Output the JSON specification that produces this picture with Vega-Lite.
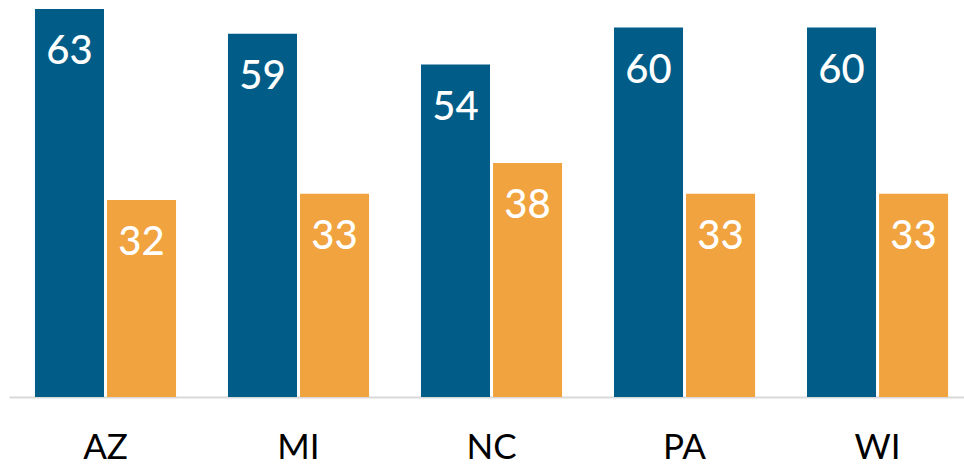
{
  "$schema": "https://vega.github.io/schema/vega-lite/v6.json",
  "width": 955,
  "height": 397,
  "autosize": "none",
  "padding": {"left": 9, "top": 0, "right": 0, "bottom": 67},
  "background": "white",
  "data": {
    "values": [
      {"state": "AZ", "series": "A", "value": 63},
      {"state": "AZ", "series": "B", "value": 32},
      {"state": "MI", "series": "A", "value": 59},
      {"state": "MI", "series": "B", "value": 33},
      {"state": "NC", "series": "A", "value": 54},
      {"state": "NC", "series": "B", "value": 38},
      {"state": "PA", "series": "A", "value": 60},
      {"state": "PA", "series": "B", "value": 33},
      {"state": "WI", "series": "A", "value": 60},
      {"state": "WI", "series": "B", "value": 33}
    ]
  },
  "encoding": {
    "x": {
      "field": "state",
      "type": "nominal",
      "sort": null,
      "scale": {"paddingInner": 0.269, "paddingOuter": 0.1085, "align": 0.62},
      "axis": {
        "title": null,
        "labelAngle": 0,
        "ticks": false,
        "tickSize": 0,
        "labelPadding": 61,
        "labelBaseline": "alphabetic",
        "labelFont": "Lato",
        "labelFontSize": 35,
        "labelColor": "#000000",
        "domainColor": "#d9d9d9",
        "domainWidth": 2,
        "grid": false
      }
    },
    "xOffset": {
      "field": "series",
      "type": "nominal",
      "scale": {"paddingInner": 0.042, "paddingOuter": 0}
    },
    "y": {
      "field": "value",
      "type": "quantitative",
      "scale": {"domain": [0, 64.46], "nice": false, "zero": true},
      "axis": null
    }
  },
  "layer": [
    {
      "mark": {"type": "bar"},
      "encoding": {
        "color": {
          "field": "series",
          "type": "nominal",
          "scale": {"domain": ["A", "B"], "range": ["#015d88", "#f0a33e"]},
          "legend": null
        }
      }
    },
    {
      "mark": {
        "type": "text",
        "baseline": "alphabetic",
        "align": "center",
        "dy": 55.5,
        "font": "Lato",
        "fontSize": 40,
        "fontWeight": 500,
        "color": "white"
      },
      "encoding": {
        "text": {"field": "value", "type": "quantitative"}
      }
    }
  ],
  "config": {
    "view": {"stroke": null}
  }
}
